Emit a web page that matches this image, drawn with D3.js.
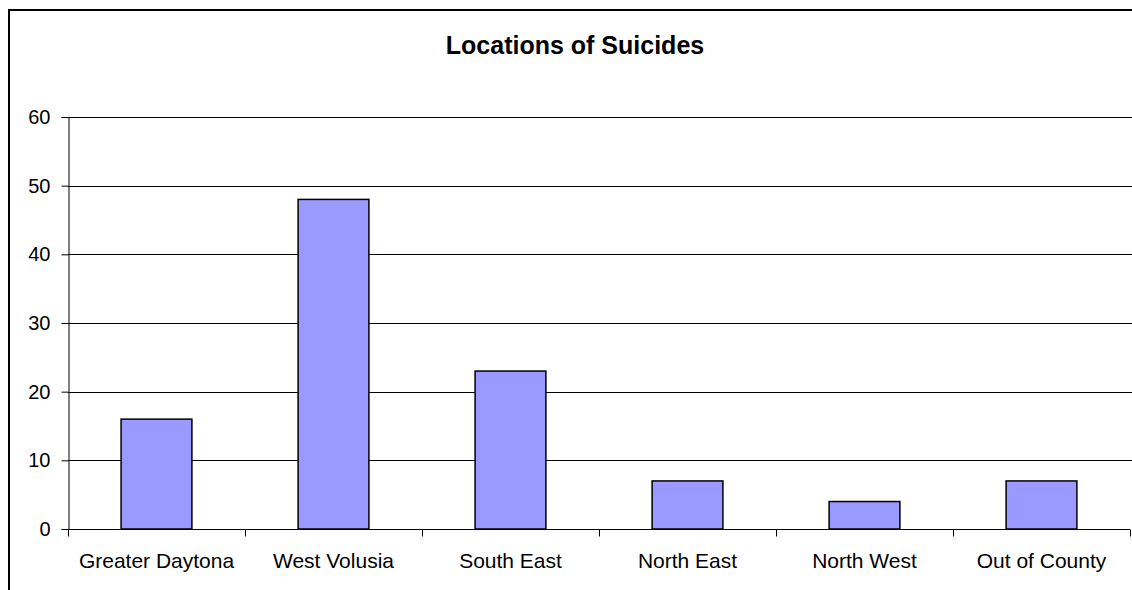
<!DOCTYPE html>
<html>
<head>
<meta charset="utf-8">
<script src="https://cdn.jsdelivr.net/npm/d3@7"></script>
<style>
  body { margin: 0; background: #fff; }
  svg { display: block; font-family: 'Liberation Sans', Arial, sans-serif; }
</style>
</head>
<body>
<div id="chart"></div>
<script>
const categories = ['Greater Daytona', 'West Volusia', 'South East', 'North East', 'North West', 'Out of County']
const counts = [16, 48, 23, 7, 4, 7]
const yTicks = [0, 10, 20, 30, 40, 50, 60]
const title = 'Locations of Suicides'

const width = 1132
const height = 590
const margin = { top: 117, left: 68, right: 2, bottom: 61 }

const svg = d3
  .select('#chart')
  .append('svg')
  .attr('width', width)
  .attr('height', height)

// outer chart frame (runs off the right/bottom edge like the original)
svg
  .append('rect')
  .attr('x', 9)
  .attr('y', 10)
  .attr('width', width + 10)
  .attr('height', height + 10)
  .attr('fill', 'none')
  .attr('stroke', '#000')
  .attr('stroke-width', 2)

svg
  .append('text')
  .attr('x', 575)
  .attr('y', 54)
  .attr('text-anchor', 'middle')
  .attr('font-size', 25)
  .attr('font-weight', 'bold')
  .text(title)

var xScale = d3
  .scaleBand()
  .domain(categories)
  .range([margin.left, width - margin.right])
  .paddingInner(0.6)
  .paddingOuter(0.3)

var yScale = d3
  .scaleLinear()
  .domain([0, 60])
  .range([height - margin.bottom, margin.top])

// gridlines
svg
  .selectAll('.grid')
  .data(yTicks.filter(d => d > 0))
  .enter()
  .append('line')
  .attr('class', 'grid')
  .attr('x1', margin.left)
  .attr('x2', width)
  .attr('y1', d => Math.round(yScale(d)) + 0.5)
  .attr('y2', d => Math.round(yScale(d)) + 0.5)
  .attr('stroke', '#000')
  .attr('stroke-width', 1)

svg
  .selectAll('.bar')
  .data(counts)
  .enter()
  .append('rect')
  .attr('class', 'bar')
  .attr('x', (d, i) => xScale(categories[i]))
  .attr('width', xScale.bandwidth())
  .attr('y', d => yScale(d))
  .attr('height', d => yScale(0) - yScale(d))
  .attr('fill', '#9999FF')
  .attr('stroke', '#000')
  .attr('stroke-width', 1.5)

// y axis
var yAxis = d3.axisLeft(yScale).tickValues(yTicks).tickSize(7).tickPadding(11)
var yG = svg
  .append('g')
  .attr('transform', `translate(${margin.left + 0.5},0)`)
  .call(yAxis)
yG.selectAll('text').attr('font-size', 20).attr('fill', '#000').attr('font-family', 'Liberation Sans, Arial, sans-serif')
yG.select('.domain').attr('stroke', '#000')

// x axis: baseline + ticks at category boundaries
var boundaries = d3.range(categories.length + 1).map(i => margin.left + i * (width - margin.right - margin.left) / categories.length)
var x0 = Math.round(yScale(0)) + 0.5
svg
  .append('line')
  .attr('x1', margin.left)
  .attr('x2', width - margin.right)
  .attr('y1', x0)
  .attr('y2', x0)
  .attr('stroke', '#000')
svg
  .selectAll('.xtick')
  .data(boundaries)
  .enter()
  .append('line')
  .attr('class', 'xtick')
  .attr('x1', d => Math.round(d) + 0.5)
  .attr('x2', d => Math.round(d) + 0.5)
  .attr('y1', x0)
  .attr('y2', x0 + 7)
  .attr('stroke', '#000')

svg
  .selectAll('.xlabel')
  .data(categories)
  .enter()
  .append('text')
  .attr('class', 'xlabel')
  .attr('x', d => xScale(d) + xScale.bandwidth() / 2)
  .attr('y', x0 + 38)
  .attr('text-anchor', 'middle')
  .attr('font-size', 21)
  .text(d => d)
</script>
</body>
</html>
